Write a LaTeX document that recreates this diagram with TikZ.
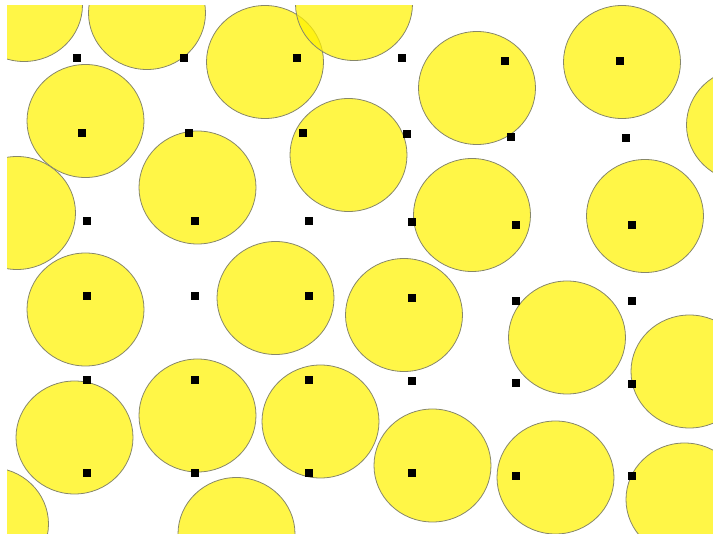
\documentclass[tikz,border=0pt]{standalone}
\usepackage{tikz}
\definecolor{discline}{RGB}{135,135,105}
\tikzset{
    disc/.style={
        draw=discline,            % contorno gris oliva
        line width=0.8pt,         % trazo fino
        fill=yellow,              % relleno amarillo
        fill opacity=0.72         % algo transparente: se nota el solape
    },
    marker/.style={
        rectangle,                % marca cuadrada
        fill=black,
        inner sep=0pt,
        minimum size=7.5pt        % cuadrito pequeño
    }
}

\begin{document}
\begin{tikzpicture}[x=1pt, y=-1pt]
    \useasboundingbox (0,0) rectangle (713,534);
    \clip (7,6) rectangle (713,534);

    % discos
    \foreach \cx/\cy in {24/5, 147/13, 265/62, 354/4, 477/88, 622/62, 745/125,
        85.5/121, 197.5/187.5, 348.5/155, 17/213, 472/215, 645/216,
        85.5/309.5, 275.5/298, 404/315, 567/337.5, 689.5/371.5,
        74.5/437.5, 197.5/415.5, 320.5/421.5, 432.5/465.5, 555.5/477.5,
        684.5/499.5, -10/524, 236.5/534}
        \draw[disc] (\cx,\cy) ellipse [x radius=58.5pt, y radius=56.5pt];

    % marcas de la rejilla
    \foreach \mx/\my [count=\i] in {77/58, 184/58, 297/58, 402/58, 505/61, 620/61,
        82/133, 189/133, 303/133, 407/134, 511/137, 626/138,
        87/221, 195/221, 309/221, 412/222, 516/225, 632/225,
        87/296, 195/296, 309/296, 412/298, 516/301, 632/301,
        87/380, 195/380, 309/380, 412/381, 516/383, 632/384,
        87/473, 195/473, 309/473, 412/473, 516/476, 632/476}
        \node[marker] (m\i) at (\mx,\my) {};
\end{tikzpicture}
\end{document}
